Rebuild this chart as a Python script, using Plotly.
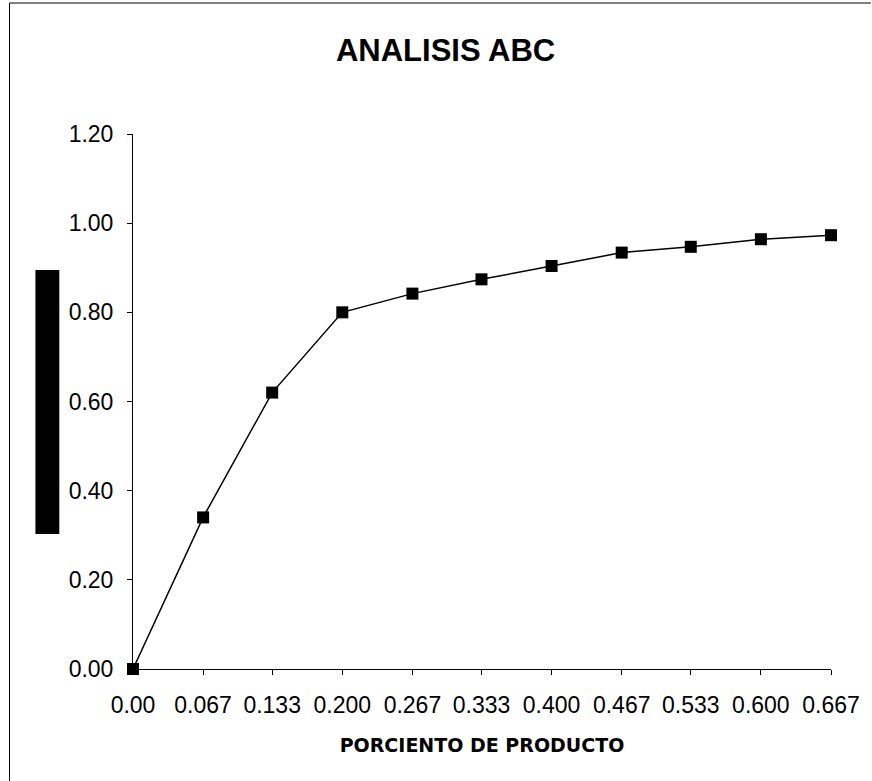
import plotly.graph_objects as go

# Cumulative share of product (x) against cumulative share of value (y)
porciento_producto = [0.0, 0.067, 0.133, 0.200, 0.267, 0.333, 0.400, 0.467, 0.533, 0.600, 0.667]
etiquetas_x = ["0.00", "0.067", "0.133", "0.200", "0.267", "0.333", "0.400", "0.467", "0.533", "0.600", "0.667"]
porciento_acumulado = [0.0, 0.34, 0.62, 0.80, 0.842, 0.874, 0.904, 0.934, 0.947, 0.964, 0.973]
valores_y = [0.0, 0.2, 0.4, 0.6, 0.8, 1.0, 1.2]
etiquetas_y = ["0.00", "0.20", "0.40", "0.60", "0.80", "1.00", "1.20"]

W, H = 872, 781
ML, MR, MT, MB = 133, 38, 134, 112
PW, PH = W - ML - MR, H - MT - MB


def px_to_paper(x, y):
    return (x - ML) / PW, (H - MB - y) / PH


fig = go.Figure()
fig.add_trace(go.Scatter(
    x=porciento_producto,
    y=porciento_acumulado,
    mode="lines+markers",
    line=dict(color="black", width=1.5),
    marker=dict(symbol="square", size=12, color="black"),
    cliponaxis=False,
    showlegend=False,
))

axis_font = dict(family="Liberation Sans, Arial, sans-serif", size=23, color="black")

fig.update_xaxes(
    range=[0, 0.667],
    tickvals=porciento_producto,
    ticktext=etiquetas_x,
    showline=True, linecolor="black", linewidth=1,
    ticks="outside", ticklen=5, tickcolor="black",
    ticklabelstandoff=10,
    showgrid=False, zeroline=False,
    tickfont=axis_font,
    title=dict(
        text="PORCIENTO DE PRODUCTO",
        font=dict(family="DejaVu Sans, sans-serif", size=19, color="black", weight="bold"),
        standoff=22,
    ),
)
fig.update_yaxes(
    range=[0, 1.2],
    tickvals=valores_y,
    ticktext=etiquetas_y,
    showline=True, linecolor="black", linewidth=1,
    ticks="outside", ticklen=5, tickcolor="black",
    ticklabelstandoff=9,
    showgrid=False, zeroline=False,
    tickfont=axis_font,
)

# Solid block beside the value axis
x0, y0 = px_to_paper(35, 534)
x1, y1 = px_to_paper(59, 270)
fig.add_shape(type="rect", xref="paper", yref="paper",
              x0=x0, y0=y0, x1=x1, y1=y1,
              fillcolor="black", line=dict(width=0), layer="above")

# Frame lines along the left and top of the sheet
lx0, ty = px_to_paper(9, 3)
rx, by = px_to_paper(W + 2, H + 2)
fig.add_shape(type="line", xref="paper", yref="paper",
              x0=lx0, y0=by, x1=lx0, y1=ty, line=dict(color="black", width=1))
fig.add_shape(type="line", xref="paper", yref="paper",
              x0=lx0, y0=ty, x1=rx, y1=ty, line=dict(color="black", width=1))

fig.update_layout(
    width=W, height=H,
    margin=dict(l=ML, r=MR, t=MT, b=MB),
    paper_bgcolor="white", plot_bgcolor="white",
    title=dict(
        text="ANALISIS ABC",
        x=0.511, xref="container", xanchor="center",
        y=1 - 50 / H, yref="container", yanchor="middle",
        font=dict(family="Liberation Sans, Arial, sans-serif", size=31, color="black", weight="bold"),
    ),
)

fig.write_html("out.html")
